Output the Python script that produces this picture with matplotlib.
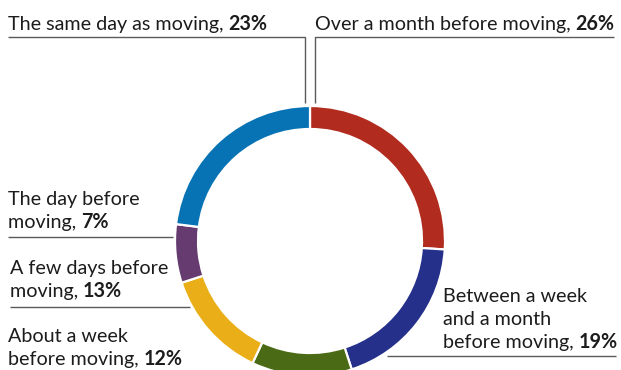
import matplotlib.pyplot as plt

# When people booked their move
labels = ['Over a month before moving',
          'Between a week\nand a month\nbefore moving',
          'About a week\nbefore moving',
          'A few days before\nmoving',
          'The day before\nmoving',
          'The same day as moving']
shares = [26, 19, 12, 13, 7, 23]
colors = ['#b12c1f', '#24308a', '#4b6a16', '#e9ae18', '#663b70', '#0773b4']

W, H = 621, 370
plt.rcParams['font.family'] = ['Lato', 'DejaVu Sans']
TXT = '#1c1c1c'
RULE = '#5a5a5a'
FS = 14.2

fig = plt.figure(figsize=(W / 100, H / 100), dpi=100)
ax = fig.add_axes([0, 0, 1, 1])

cx, cy, R = 310, H - 241, 135
ax.pie(shares, colors=colors, startangle=90, counterclock=False,
       center=(cx, cy), radius=R,
       wedgeprops=dict(width=23, edgecolor='white', linewidth=1.6))

ax.set_xlim(0, W)
ax.set_ylim(0, H)
ax.set_aspect('equal')
ax.axis('off')


def label(x, y_top, text, value, step=23):
    # each line drawn on its own; the value goes bold after the last line
    lines = text.split('\n')
    for i, line in enumerate(lines):
        last = i == len(lines) - 1
        t = ax.text(x, H - (y_top + i * step), line + (', ' if last else ''),
                    fontsize=FS, color=TXT, ha='left', va='baseline')
    ax.annotate(f'{value}%', xy=(1, H - (y_top + (len(lines) - 1) * step)),
                xycoords=(t, 'data'), fontsize=FS, fontweight='bold',
                color=TXT, ha='left', va='baseline')


def rule(pts):
    xs = [p[0] for p in pts]
    ys = [H - p[1] for p in pts]
    ax.plot(xs, ys, color=RULE, lw=1.0, solid_capstyle='butt')


# labels: x, baseline of first line (pixels from top)
pos = [(315, 30), (443, 302), (8, 342), (10, 274), (8, 205), (8, 30)]
for (x, y), text, v in zip(pos, labels, shares):
    label(x, y, text, v)

# leader rules
rule([(8, 37), (305, 37), (305, 103)])
rule([(315, 103), (315, 37), (614, 37)])
rule([(8, 237), (173, 237)])
rule([(10, 307), (190, 307)])
rule([(387, 356), (616, 356)])

fig.savefig('out.png', dpi=100)
